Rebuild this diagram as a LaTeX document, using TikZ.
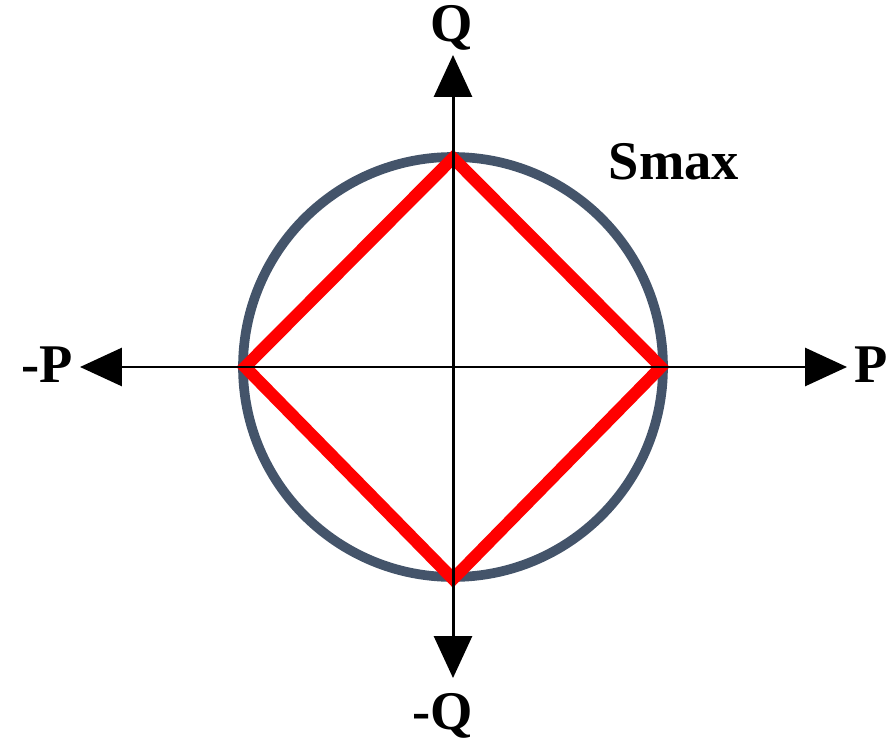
\documentclass[tikz,border=0pt]{standalone}
\usepackage{fontspec}
\setmainfont{Liberation Serif}
\usepackage{xcolor}
\usetikzlibrary{arrows.meta}

\definecolor{smaxgray}{HTML}{44546A}

\begin{document}
\begin{tikzpicture}[
    x=0.02cm, y=-0.02cm,
    lbl/.style={font=\fontsize{31}{34}\selectfont\bfseries, inner sep=0pt},
    axis/.style={line width=1.7pt, -{Triangle[length=0.84cm,width=0.76cm]}},
    limit/.style={draw=smaxgray, line width=5.5pt},
    region/.style={draw=red, line width=7pt, line join=miter},
  ]
  \useasboundingbox (0,0) rectangle (895,743);

  % origin and axis ends
  \coordinate (O)  at (453,367);
  \coordinate (pp) at (847,367);
  \coordinate (pn) at (80,367);
  \coordinate (qp) at (453,55);
  \coordinate (qn) at (453,678);

  % Smax circle
  \draw[limit] (O) circle[radius=210];

  % diamond on the circle
  \coordinate (top)   at (453,158);
  \coordinate (bot)   at (453,579);
  \coordinate (left)  at (245,367);
  \coordinate (right) at (661,367);
  \draw[region] (top) -- (right) -- (bot) -- (left) -- cycle;

  % axes
  \draw[axis] (O) -- (pp);
  \draw[axis] (O) -- (pn);
  \draw[axis] (O) -- (qp);
  \draw[axis] (O) -- (qn);

  % labels
  \node[lbl] (lq)    at (452,28)  {Q};
  \node[lbl] (lmq)   at (443,716) {-Q};
  \node[lbl] (lp)    at (871,365) {P};
  \node[lbl] (lmp)   at (47,365)  {-P};
  \node[lbl] (lsmax) at (674,162) {Smax};
\end{tikzpicture}
\end{document}
